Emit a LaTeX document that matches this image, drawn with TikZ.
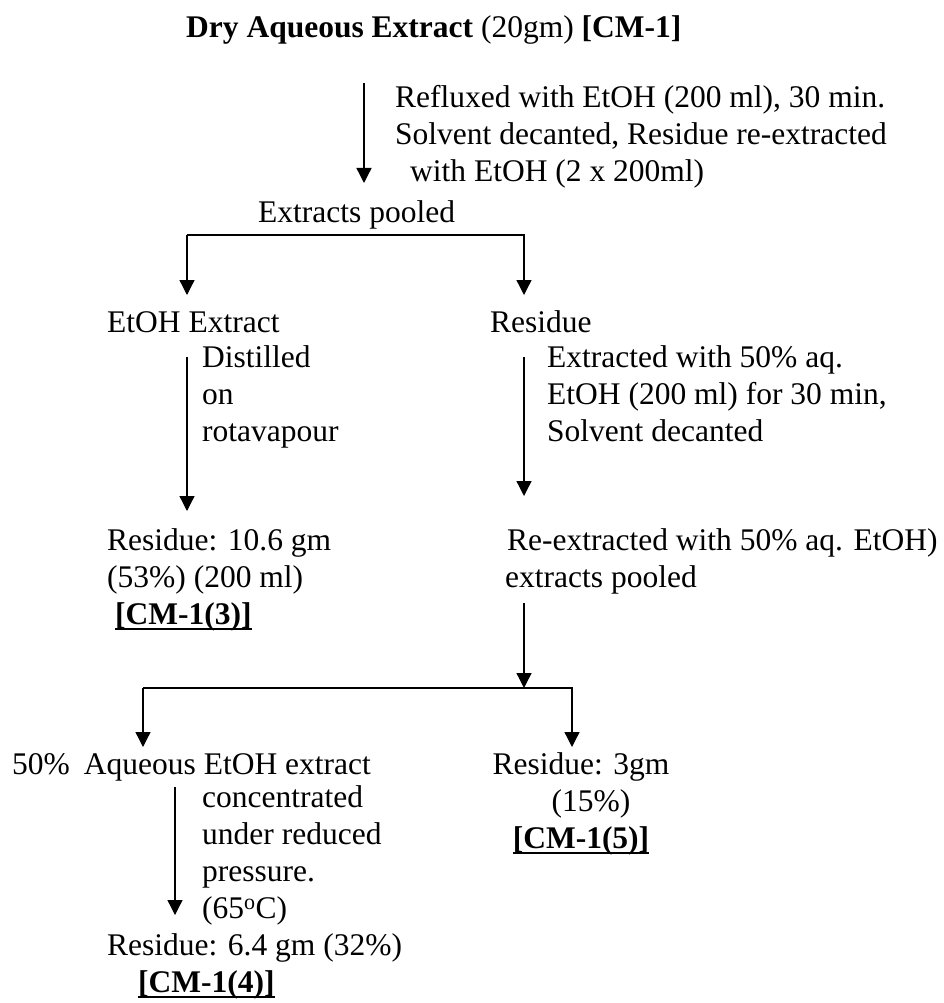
\documentclass[tikz,border=0pt]{standalone}
\usepackage{fontspec}
\setmainfont{Liberation Serif}
\usetikzlibrary{arrows.meta}
\tikzset{txt/.style={inner sep=0pt, anchor=north west, align=left, font=\fontsize{31.5}{37}\selectfont, execute at begin node=\strut}}
\tikzset{arr/.style={line width=1.3pt, -{Triangle[width=15pt,length=15pt]}}}
\newcommand{\ulbox}[1]{\setbox0=\hbox{#1}\rlap{\rule[-5.5pt]{\wd0}{1.6pt}}\box0}

\begin{document}
\begin{tikzpicture}[x=1pt, y=-1pt]
\useasboundingbox (0,0) rectangle (944,1003);
%% top
\node[txt] (title) at (186,11) {\textbf{Dry Aqueous Extract} (20gm) \textbf{[CM-1]}};
\coordinate (a1) at (364,83);
\draw[arr] (a1) -- ++(0,100);
\node[txt] (reflux) at (395,85) {Refluxed with EtOH (200 ml), 30 min.\\Solvent decanted, Residue re-extracted\\\hspace*{15pt}with EtOH (2 x 200ml)};
\node[txt] (pooled) at (258,196) {Extracts pooled};
%% first split
\coordinate (s1l) at (187,235);
\coordinate (s1r) at (524,235);
\draw[arr] (s1l) -- ++(0,60);
\draw[arr] (s1l) -- (s1r) -- ++(0,60);
%% left branch
\node[txt] (etohext) at (107,306) {EtOH Extract};
\coordinate (a2) at (187,357);
\draw[arr] (a2) -- ++(0,154);
\node[txt] (distil) at (202,345) {Distilled\\on\\rotavapour};
\node[txt] (resA) at (107,528) {Residue: 10.6 gm\\(53\%) (200 ml)\\\hspace*{8pt}\ulbox{\textbf{[CM-1(3)]}}};
%% right branch
\node[txt] (resB) at (490,306) {Residue};
\coordinate (a3) at (524,357);
\draw[arr] (a3) -- ++(0,139);
\node[txt] (extr) at (547,345) {Extracted with 50\% aq.\\EtOH (200 ml) for 30 min,\\Solvent decanted};
\node[txt] (reext) at (505,528) {\hspace*{2pt}Re-extracted with 50\% aq. EtOH)\\extracts pooled};
%% second split
\coordinate (a4) at (524,603);
\coordinate (s2l) at (143,688);
\coordinate (s2r) at (572,688);
\draw[arr] (a4) -- (a4 |- s2l);
\draw[arr] (s2l) -- ++(0,59);
\draw[arr] (s2l) -- (s2r) -- ++(0,59);
%% bottom
\node[txt] (aqext) at (12,748) {50\%\hspace{14pt}Aqueous EtOH extract};
\coordinate (a5) at (175,787);
\draw[arr] (a5) -- ++(0,128);
\node[txt] (conc) at (202,785) {concentrated\\under reduced\\pressure.\\(65\textsuperscript{o}C)};
\node[txt] (resC) at (107,933) {Residue: 6.4 gm (32\%)\\\hspace*{31pt}\ulbox{\textbf{[CM-1(4)]}}};
\node[txt, anchor=north, align=center] (resD) at (581,752) {Residue: 3gm\\\hspace*{20pt}(15\%)\\\ulbox{\textbf{[CM-1(5)]}}};
\end{tikzpicture}
\end{document}
